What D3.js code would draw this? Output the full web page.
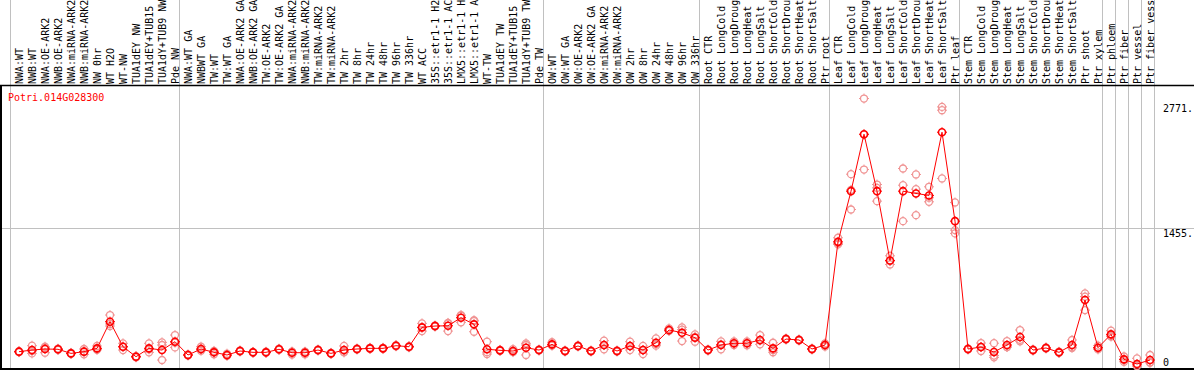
<!DOCTYPE html>
<html>
<head>
<meta charset="utf-8">
<script src="https://cdn.jsdelivr.net/npm/d3@7"></script>
<style>
  body { margin: 0; background: #fff; }
  svg { display: block; }
  text { font-family: "DejaVu Sans Mono", monospace; font-size: 10px; }
</style>
</head>
<body>
<svg id="chart"></svg>
<script>
// Data
let gene = "Potri.014G028300";

let samples = [
  "NWA:WT", "NWB:WT", "NWA:OE-ARK2", "NWB:OE-ARK2", "NWA:miRNA-ARK2", "NWB:miRNA-ARK2",
  "NW 0hr", "WT H2O", "WT-NW", "TUA1dEY NW", "TUA1dEY+TUB15", "TUA1dY+TUB9 NW", "Pde NW",
  "NWA:WT GA", "NWBWT GA", "TW:WT", "TW:WT GA", "NWA:OE-ARK2 GA", "NWB:OE-ARK2 GA",
  "TW:OE-ARK2", "TW:OE-ARK2 GA", "NWA:miRNA-ARK2", "NWB:miRNA-ARK2", "TW:miRNA-ARK2",
  "TW:miRNA-ARK2", "TW 2hr", "TW 8hr", "TW 24hr", "TW 48hr", "TW 96hr", "TW 336hr",
  "WT ACC", "35S::etr1-1 H2", "35S::etr1-1 AC", "LMX5::etr1-1 H", "LMX5::etr1-1 A",
  "WT-TW", "TUA1dEY TW", "TUA1dEY+TUB15", "TUA1dY+TUB9 TW", "Pde TW",
  "OW:WT", "OW:WT GA", "OW:OE-ARK2", "OW:OE-ARK2 GA", "OW:miRNA-ARK2", "OW:miRNA-ARK2",
  "OW 2hr", "OW 8hr", "OW 24hr", "OW 48hr", "OW 96hr", "OW 336hr",
  "Root CTR", "Root LongCold", "Root LongDroug", "Root LongHeat", "Root LongSalt",
  "Root ShortCold", "Root ShortDrou", "Root ShortHeat", "Root ShortSalt", "Ptr root",
  "Leaf CTR", "Leaf LongCold", "Leaf LongDroug", "Leaf LongHeat", "Leaf LongSalt",
  "Leaf ShortCold", "Leaf ShortDrou", "Leaf ShortHeat", "Leaf ShortSalt", "Ptr leaf",
  "Stem CTR", "Stem LongCold", "Stem LongDroug", "Stem LongHeat", "Stem LongSalt",
  "Stem ShortCold", "Stem ShortDrou", "Stem ShortHeat", "Stem ShortSalt", "Ptr shoot",
  "Ptr xylem", "Ptr phloem", "Ptr fiber", "Ptr vessel", "Ptr fiber vess"
];

let means = [
  151, 168, 179, 176, 133, 151, 186, 467, 203, 98, 186, 168, 256,
  116, 179, 144, 116, 158, 144, 144, 176, 140, 140, 168, 133, 168, 179, 186, 186, 214, 203,
  407, 421, 424, 509, 439, 176, 165, 158, 193, 168,
  228, 158, 211, 158, 221, 158, 211, 168, 245, 379, 351, 298,
  168, 221, 239, 239, 274, 186, 284, 274, 179, 221,
  1308, 1842, 2442, 1842, 1112, 1842, 1818, 1797, 2463, 1526,
  179, 200, 147, 221, 305, 168, 190, 144, 221, 695, 193,
  333, 70, 21, 63
];

let replicates = [
  [146, 151, 156], [214, 133, 157], [203, 140, 194], [170, 182, 176], [128, 138, 133],
  [179, 123, 151], [211, 170, 177], [537, 421, 443], [239, 168, 202], [92, 104, 98],
  [239, 144, 175], [249, 221, 63], [326, 196, 246],
  [110, 122, 116], [203, 160, 174], [123, 150, 159], [130, 110, 108], [152, 164, 158],
  [140, 148, 144], [150, 138, 144], [170, 182, 176], [120, 150, 150], [122, 148, 150],
  [162, 174, 168], [128, 138, 133], [211, 150, 143], [173, 185, 179], [180, 192, 186],
  [180, 192, 186], [208, 220, 214], [197, 209, 203],
  [449, 368, 404], [415, 427, 421], [368, 450, 454], [530, 460, 537], [474, 361, 482],
  [256, 126, 146], [160, 170, 165], [178, 150, 146], [239, 221, 116], [162, 174, 168],
  [250, 215, 219], [152, 164, 158], [205, 217, 211], [152, 164, 158], [267, 176, 220],
  [152, 164, 158], [256, 168, 209], [211, 126, 167], [291, 214, 230], [396, 370, 371],
  [407, 263, 383], [333, 256, 305],
  [162, 174, 168], [260, 176, 227], [260, 221, 236], [260, 218, 239], [326, 228, 268],
  [245, 168, 145], [278, 290, 284], [268, 280, 274], [173, 185, 179], [205, 237, 221],
  [1351, 1281, 1292], [2021, 1649, 1856], [2818, 2070, 2438], [1912, 1737, 1877],
  [1161, 1070, 1105], [2081, 1905, 1526], [2018, 1863, 1589], [1888, 1730, 1773],
  [2730, 2695, 1976], [1723, 1432, 1397],
  [173, 185, 179], [242, 158, 200], [240, 110, 91], [263, 200, 200], [379, 260, 276],
  [162, 174, 168], [184, 196, 190], [138, 150, 144], [274, 190, 199], [765, 589, 731],
  [215, 175, 189],
  [372, 310, 317], [100, 45, 65], [81, 0, 0], [116, 40, 33]
];

// column index where each group starts (last one = end)
let groupBreaks = [0, 13, 41, 53, 63, 73, 84, 85, 86, 87, 88];
let yTicks = [0, 1455, 2771];

// SVG Size
let width = 1194;
let height = 370;
let labelBottom = 86;
let plotBottom = 369;

let svg = d3.select("#chart")
  .attr("width", width)
  .attr("height", height);

// Scales
let x = d3.scaleBand()
  .domain(d3.range(samples.length))
  .range([10.5, 10.5 + 13 * samples.length]);
let px = i => x(i) + 8.5;

let y = d3.scaleLinear()
  .domain([0, 2771])
  .range([366, 103]);

// Group separators
let xAt = k => k < samples.length ? x(k) : x(samples.length - 1) + x.bandwidth();
svg.append("g")
  .selectAll("line")
  .data(groupBreaks)
  .enter()
  .append("line")
  .attr("x1", d => xAt(d))
  .attr("x2", d => xAt(d))
  .attr("y1", 0)
  .attr("y2", plotBottom)
  .attr("stroke", "#c0c0c0")
  .attr("stroke-width", 1);

// Horizontal grid line (middle tick only)
svg.append("line")
  .attr("x1", 0)
  .attr("x2", width)
  .attr("y1", Math.round(y(1455)) + 0.5)
  .attr("y2", Math.round(y(1455)) + 0.5)
  .attr("stroke", "#c0c0c0");

// Frame
svg.append("line")
  .attr("x1", 0).attr("x2", width)
  .attr("y1", labelBottom - 0.5).attr("y2", labelBottom - 0.5)
  .attr("stroke", "#000").attr("stroke-width", 1.5);
svg.append("line")
  .attr("x1", 0).attr("x2", width)
  .attr("y1", plotBottom).attr("y2", plotBottom)
  .attr("stroke", "#000").attr("stroke-width", 2);
svg.append("line")
  .attr("x1", 1).attr("x2", 1)
  .attr("y1", labelBottom).attr("y2", plotBottom)
  .attr("stroke", "#000").attr("stroke-width", 2);

// Sample labels (rotated)
svg.append("g")
  .selectAll("text")
  .data(samples)
  .enter()
  .append("text")
  .attr("transform", (d, i) => `translate(${px(i) + 3.5}, 84) rotate(-90)`)
  .attr("fill", "#000")
  .text(d => d);

// Gene name
svg.append("text")
  .attr("x", 8)
  .attr("y", 101)
  .attr("fill", "#ff0000")
  .text(gene);

// Y tick labels
svg.append("g")
  .selectAll("text")
  .data(yTicks)
  .enter()
  .append("text")
  .attr("x", 1163)
  .attr("y", d => Math.min(y(d) + 9, 366))
  .attr("fill", "#000")
  .text(d => d === 0 ? "0" : d + ".");

// Marker shape: circle with small ticks
let ticks = "M0,-5V-3.5M0,3.5V5M-5,0H-3.5M3.5,0H5";

// Replicates
let repPoints = [];
replicates.forEach((r, i) => r.forEach(v => repPoints.push({ i: i, v: v })));

let repG = svg.append("g")
  .selectAll("g")
  .data(repPoints)
  .enter()
  .append("g")
  .attr("transform", d => `translate(${px(d.i)}, ${y(d.v)})`);
repG.append("circle")
  .attr("r", 3.5)
  .attr("fill", "none")
  .attr("stroke", "#f09494")
  .attr("stroke-width", 1.3);
repG.append("path")
  .attr("d", ticks)
  .attr("stroke", "#f09494")
  .attr("stroke-width", 1);

// Mean line
let line = d3.line()
  .x((d, i) => px(i))
  .y(d => y(d));

svg.append("path")
  .datum(means)
  .attr("d", line)
  .attr("fill", "none")
  .attr("stroke", "#ff0000")
  .attr("stroke-width", 1);

// Mean markers
let meanG = svg.append("g")
  .selectAll("g")
  .data(means)
  .enter()
  .append("g")
  .attr("transform", (d, i) => `translate(${px(i)}, ${y(d)})`);
meanG.append("circle")
  .attr("r", 3.5)
  .attr("fill", "none")
  .attr("stroke", "#ff0000")
  .attr("stroke-width", 1.6);
meanG.append("path")
  .attr("d", ticks)
  .attr("stroke", "#ff0000")
  .attr("stroke-width", 1);
</script>
</body>
</html>
